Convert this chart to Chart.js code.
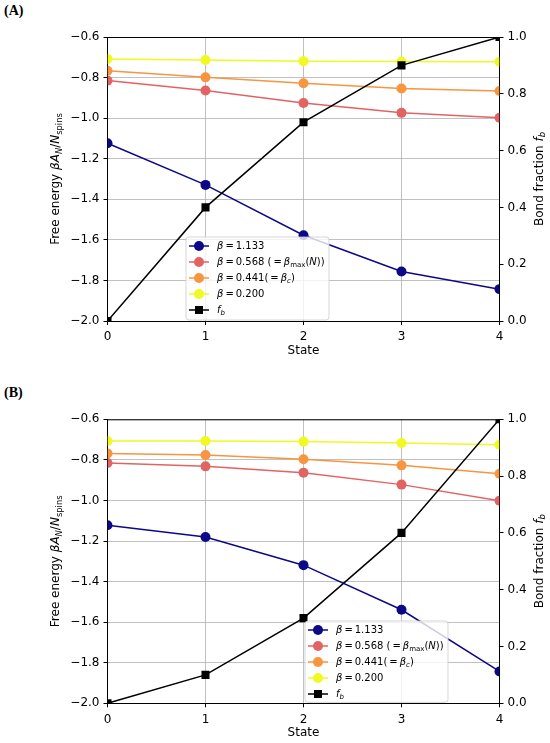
<!DOCTYPE html>
<html lang="en">
<head>
    <meta charset="UTF-8">
    <title>Free energy and bond fraction</title>
    <script src="https://cdn.jsdelivr.net/npm/chart.js"></script>
    <style>
        body {
            margin: 0;
            width: 550px;
            height: 743px;
            background: #ffffff;
            position: relative;
            overflow: hidden;
        }

        .panel {
            position: absolute;
            left: 0;
            width: 550px;
        }

        .tag {
            position: absolute;
            left: 4px;
            font-family: "Liberation Serif", serif;
            font-weight: bold;
            font-size: 14px;
            color: #000;
        }
    </style>
</head>
<body>
    <div class="tag" style="top: 3px;">(A)</div>
    <div class="tag" style="top: 385px;">(B)</div>
    <div class="panel" style="top: 0; height: 372px;"><canvas id="chartA"></canvas></div>
    <div class="panel" style="top: 372px; height: 371px;"><canvas id="chartB"></canvas></div>

    <script>
        // x values (state index)
        const states = [0, 1, 2, 3, 4];

        // panel A : free energy per spin for each beta
        const freeA_1133 = [-1.124, -1.329, -1.577, -1.756, -1.843];
        const freeA_0568 = [-0.815, -0.864, -0.925, -0.974, -0.998];
        const freeA_0441 = [-0.766, -0.799, -0.828, -0.854, -0.866];
        const freeA_0200 = [-0.708, -0.713, -0.719, -0.721, -0.722];
        const bondA = [0.0, 0.4, 0.7, 0.9, 1.0];

        // panel B
        const freeB_1133 = [-1.122, -1.180, -1.319, -1.539, -1.843];
        const freeB_0568 = [-0.815, -0.832, -0.863, -0.922, -1.001];
        const freeB_0441 = [-0.768, -0.776, -0.797, -0.827, -0.868];
        const freeB_0200 = [-0.707, -0.707, -0.710, -0.717, -0.725];
        const bondB = [0.0, 0.1, 0.3, 0.6, 1.0];

        const leftTicks = [-2.0, -1.8, -1.6, -1.4, -1.2, -1.0, -0.8, -0.6];
        const rightTicks = [0.0, 0.2, 0.4, 0.6, 0.8, 1.0];

        const colors = ["#0d0887", "#e16462", "#f89540", "#f0f921", "#000000"];

        // legend labels as rich text pieces (i = italic, s = subscript)
        const legendLabels = [
            [{ t: "β", i: true }, { t: "\u2009=\u20091.133" }],
            [{ t: "β", i: true }, { t: "\u2009=\u20090.568 (\u2009=\u2009" }, { t: "β", i: true }, { t: "max", s: true }, { t: "(" }, { t: "N", i: true }, { t: "))" }],
            [{ t: "β", i: true }, { t: "\u2009=\u20090.441(\u2009=\u2009" }, { t: "β", i: true }, { t: "c", i: true, s: true }, { t: ")" }],
            [{ t: "β", i: true }, { t: "\u2009=\u20090.200" }],
            [{ t: "f", i: true }, { t: "b", i: true, s: true }]
        ];

        const yTitle = [{ t: "Free energy " }, { t: "βA", i: true }, { t: "N", i: true, s: true }, { t: "/" }, { t: "N", i: true }, { t: "spins", s: true }];
        const y2Title = [{ t: "Bond fraction " }, { t: "f", i: true }, { t: "b", i: true, s: true }];

        Chart.defaults.font.family = "DejaVu Sans";
        Chart.defaults.color = "#000";

        function pieceFont(p, size) {
            const sz = p.s ? size * 0.7 : size;
            return (p.i ? "italic " : "") + sz + "px DejaVu Sans";
        }

        function richWidth(ctx, parts, size) {
            let w = 0;
            parts.forEach(function (p) {
                ctx.font = pieceFont(p, size);
                w += ctx.measureText(p.t).width;
            });
            return w;
        }

        function drawRich(ctx, parts, x, y, size, center) {
            let cx = center ? x - richWidth(ctx, parts, size) / 2 : x;
            ctx.textBaseline = "middle";
            ctx.textAlign = "left";
            parts.forEach(function (p) {
                ctx.font = pieceFont(p, size);
                ctx.fillText(p.t, cx, p.s ? y + size * 0.3 : y);
                cx += ctx.measureText(p.t).width;
            });
        }

        const decorPlugin = {
            id: "decor",
            beforeDatasetsDraw(chart) {
                // clip the series to the axes box, as matplotlib does
                const a = chart.chartArea;
                chart.ctx.save();
                chart.ctx.beginPath();
                chart.ctx.rect(a.left, a.top, a.right - a.left, a.bottom - a.top);
                chart.ctx.clip();
            },
            afterDatasetsDraw(chart) {
                chart.ctx.restore();
            },
            afterDraw(chart, args, opts) {
                const ctx = chart.ctx;
                const a = chart.chartArea;
                ctx.save();

                // top spine
                ctx.strokeStyle = "#000";
                ctx.lineWidth = 1;
                ctx.beginPath();
                ctx.moveTo(a.left, a.top + 0.5);
                ctx.lineTo(a.right, a.top + 0.5);
                ctx.stroke();

                ctx.fillStyle = "#000";
                // axis titles
                drawRich(ctx, [{ t: "State" }], (a.left + a.right) / 2, a.bottom + 30, 12, true);
                ctx.save();
                ctx.translate(a.left - 51.5, (a.top + a.bottom) / 2);
                ctx.rotate(-Math.PI / 2);
                drawRich(ctx, yTitle, 0, 0, 12, true);
                ctx.restore();
                ctx.save();
                ctx.translate(a.right + 40, (a.top + a.bottom) / 2);
                ctx.rotate(-Math.PI / 2);
                drawRich(ctx, y2Title, 0, 0, 12, true);
                ctx.restore();

                // legend box
                const lx = opts.left, ly = opts.top, lw = 143, lh = a.bottom - opts.top - 1;
                ctx.fillStyle = "rgba(255,255,255,0.8)";
                ctx.strokeStyle = "rgba(204,204,204,0.8)";
                ctx.lineWidth = 1;
                ctx.beginPath();
                ctx.roundRect(lx, ly, lw, lh, 3);
                ctx.fill();
                ctx.stroke();

                legendLabels.forEach(function (parts, k) {
                    const ry = ly + 9 + k * 16;
                    const hx = lx + 13;
                    ctx.strokeStyle = colors[k];
                    ctx.lineWidth = 1.5;
                    ctx.beginPath();
                    ctx.moveTo(hx - 10, ry);
                    ctx.lineTo(hx + 10, ry);
                    ctx.stroke();
                    ctx.fillStyle = colors[k];
                    ctx.beginPath();
                    if (k === 4) {
                        ctx.rect(hx - 4, ry - 4, 8, 8);
                    } else {
                        ctx.arc(hx, ry, 5, 0, Math.PI * 2);
                    }
                    ctx.fill();
                    ctx.fillStyle = "#000";
                    drawRich(ctx, parts, lx + 31, ry, 10, false);
                });

                ctx.restore();
            }
        };

        function pts(ys) {
            return states.map(function (x, k) { return { x: x, y: ys[k] }; });
        }

        function lineSet(label, ys, k, axis, order) {
            return {
                label: label,
                data: pts(ys),
                yAxisID: axis,
                borderColor: colors[k],
                backgroundColor: colors[k],
                pointBackgroundColor: colors[k],
                pointBorderWidth: 0,
                pointRadius: k === 4 ? 5.7 : 5,
                pointHoverRadius: k === 4 ? 5.7 : 5,
                pointStyle: k === 4 ? "rect" : "circle",
                borderWidth: 1.5,
                tension: 0,
                clip: 0,
                order: order
            };
        }

        function fmt(v) {
            return (v < -1e-9 ? "\u2212" : "") + Math.abs(v).toFixed(1);
        }

        function makeChart(id, series, bond, padTop, xHeight, legendPos) {
            return new Chart(document.getElementById(id), {
                type: "line",
                data: {
                    datasets: [
                        lineSet("β = 1.133", series[0], 0, "y", 5),
                        lineSet("β = 0.568", series[1], 1, "y", 4),
                        lineSet("β = 0.441", series[2], 2, "y", 3),
                        lineSet("β = 0.200", series[3], 3, "y", 2),
                        lineSet("f_b", bond, 4, "y2", 1)
                    ]
                },
                options: {
                    responsive: true,
                    maintainAspectRatio: false,
                    animation: false,
                    layout: { padding: { top: padTop, left: 0, right: 0, bottom: 0 } },
                    plugins: {
                        legend: { display: false },
                        tooltip: { enabled: false },
                        decor: legendPos
                    },
                    scales: {
                        x: {
                            type: "linear",
                            min: 0,
                            max: 4,
                            afterBuildTicks(scale) {
                                scale.ticks = states.map(function (v) { return { value: v }; });
                            },
                            ticks: { font: { size: 12 }, padding: 5, callback: function (v) { return String(v); } },
                            grid: { color: "#b0b0b0", lineWidth: 0.8, tickColor: "#000", tickLength: 4, tickWidth: 1 },
                            border: { color: "#000", width: 1 },
                            afterFit(scale) { scale.height = xHeight; }
                        },
                        y: {
                            position: "left",
                            min: -2.0,
                            max: -0.6,
                            afterBuildTicks(scale) {
                                scale.ticks = leftTicks.map(function (v) { return { value: v }; });
                            },
                            ticks: { font: { size: 12 }, padding: 4, callback: fmt },
                            grid: { color: "#b0b0b0", lineWidth: 0.8, tickColor: "#000", tickLength: 4, tickWidth: 1 },
                            border: { color: "#000", width: 1 },
                            afterFit(scale) { scale.width = 107.5; }
                        },
                        y2: {
                            position: "right",
                            min: 0,
                            max: 1,
                            afterBuildTicks(scale) {
                                scale.ticks = rightTicks.map(function (v) { return { value: v }; });
                            },
                            ticks: { font: { size: 12 }, padding: 4, callback: fmt },
                            grid: { drawOnChartArea: false, tickColor: "#000", tickLength: 4, tickWidth: 1 },
                            border: { color: "#000", width: 1 },
                            afterFit(scale) { scale.width = 50.5; }
                        }
                    }
                },
                plugins: [decorPlugin]
            });
        }

        makeChart("chartA", [freeA_1133, freeA_0568, freeA_0441, freeA_0200], bondA, 37, 51, { left: 186, top: 237 });
        makeChart("chartB", [freeB_1133, freeB_0568, freeB_0441, freeB_0200], bondB, 47.3, 39.7, { left: 305, top: 249 });
    </script>
</body>
</html>
